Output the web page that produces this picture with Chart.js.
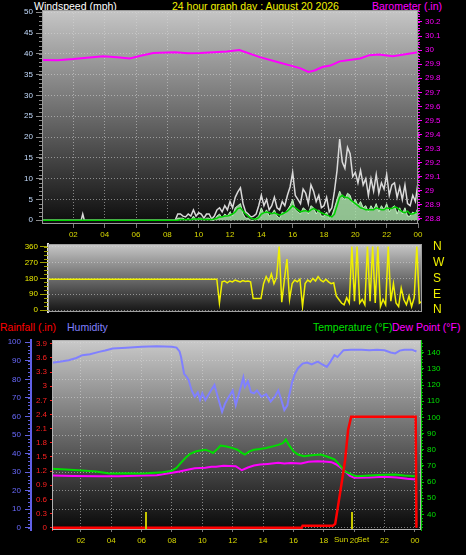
<!DOCTYPE html>
<html>
<head>
<meta charset="utf-8">
<script src="https://cdn.jsdelivr.net/npm/chart.js@4.4.1/dist/chart.umd.min.js"></script>
<style>
  body { margin: 0; background: #000; width: 466px; height: 555px; overflow: hidden; position: relative;
         font-family: "Liberation Sans", Arial, sans-serif; }
  canvas { position: absolute; left: 0; top: 0; pointer-events: none; }
  .lbl { position: absolute; font-size: 10.5px; line-height: 12px; white-space: nowrap; }
</style>
</head>
<body>
<div class="lbl" style="left:34px;top:0px;color:#ffffff">Windspeed (mph)</div>
<div class="lbl" style="left:172px;top:0px;color:#f0f000">24 hour graph day : August 20 2026</div>
<div class="lbl" style="left:372px;top:0px;color:#ff00ff">Barometer (.in)</div>
<div class="lbl" style="left:0px;top:321px;color:#ff0000">Rainfall (.in)</div>
<div class="lbl" style="left:67px;top:321px;color:#8080ff">Humidity</div>
<div class="lbl" style="left:313px;top:321px;color:#00e000">Temperature (°F)</div>
<div class="lbl" style="left:392px;top:321px;color:#ff00ff">Dew Point (°F)</div>

<canvas id="cWind" width="466" height="555"></canvas>
<canvas id="cDir" width="466" height="555"></canvas>
<canvas id="cTemp" width="466" height="555"></canvas>

<script>
// ---- data ----
const HOUR_TICKS = [2, 4, 6, 8, 10, 12, 14, 16, 18, 20, 22, 24];

const BARO_HOURS = [0, 1.0, 2.0, 3.9, 4.8, 5.6, 6.3, 7.1, 8.5, 9.3, 10.1, 11.8, 12.6, 13.9, 15.2, 16.0, 16.5, 17.0, 17.4, 17.9, 18.4, 19.0, 20.3, 20.9, 21.5, 22.4, 23.2, 24.0];
const BARO_VALUES = [29.93, 29.928, 29.936, 29.957, 29.95, 29.94, 29.96, 29.98, 29.985, 29.978, 29.98, 29.99, 30.0, 29.95, 29.91, 29.886, 29.87, 29.845, 29.855, 29.88, 29.89, 29.92, 29.94, 29.964, 29.968, 29.957, 29.97, 29.985];

// quiet night, then 10 minute samples from 08:30
const WIND_EARLY_HOURS = [0, 2.5, 2.6, 2.7, 8.4];
const WIND_EARLY_GUST = [0, 0, 1.5, 0, 0];
const WIND_EARLY_SPEED = [0, 0, 0, 0, 0];
const WIND_EARLY_AVG = [0, 0, 0, 0, 0];
const WIND_START = 8.5;
const WIND_STEP_MIN = 10;
const WIND_GUST = [
  0, 1.5, 1.5,
  1.0, 0.8, 1.5, 1.0, 2.5, 1.0,
  1.8, 1.5, 0.5, 1.5, 1.5, 0.3,
  1.0, 2.5, 3.0, 2.0, 3.5, 2.5,
  4.5, 3.0, 5.5, 6.8, 7.8, 4.0,
  2.0, 1.5, 0.8, 1.0, 1.5, 3.5,
  6.0, 3.5, 5.0, 2.5, 3.5, 5.5,
  3.0, 2.5, 4.5, 3.5, 6.0, 8.0,
  11.5, 6.0, 5.0, 4.0, 7.5, 6.5,
  4.0, 8.5, 7.0, 4.5, 6.0, 3.0,
  3.5, 5.5, 2.0, 3.0, 7.0, 12.0,
  19.5, 14.0, 12.5, 17.5, 16.0, 10.5,
  11.5, 9.0, 12.0, 8.5, 10.0, 6.0,
  10.0, 7.0, 11.0, 6.5, 9.0, 7.5,
  11.0, 6.0, 8.5, 9.0, 5.5, 8.0,
  5.0, 8.5, 4.0, 3.5, 6.0, 4.5,
  9.0
];
const WIND_SPEED = [
  0, 0.5, 0.5,
  0.5, 0, 0.5, 0, 1.0, 0,
  0.5, 0.5, 0, 0.5, 0.5, 0,
  0, 1.0, 1.5, 0.5, 1.5, 1.0,
  2.0, 1.0, 3.0, 3.5, 4.0, 1.5,
  0.5, 0.5, 0, 0, 0.5, 1.0,
  3.0, 1.5, 2.5, 1.0, 1.5, 2.5,
  1.0, 0.5, 2.0, 1.5, 2.5, 3.5,
  5.0, 2.5, 2.0, 1.5, 3.0, 2.5,
  1.5, 3.5, 3.0, 1.5, 2.5, 1.0,
  1.0, 2.0, 0.5, 1.0, 3.0, 5.0,
  7.0, 5.5, 5.0, 6.5, 6.0, 4.0,
  5.0, 3.5, 4.5, 3.0, 3.5, 2.0,
  3.5, 2.5, 4.0, 2.0, 3.5, 2.5,
  4.0, 2.0, 3.0, 3.5, 1.5, 3.0,
  1.5, 3.0, 1.0, 1.0, 2.0, 1.5,
  3.0
];
const WIND_AVG = [
  0, 0, 0.2,
  0.2, 0.2, 0.2, 0.2, 0.3, 0.3,
  0.3, 0.3, 0.2, 0.2, 0.2, 0.2,
  0.3, 0.5, 0.8, 0.8, 1.0, 1.0,
  1.2, 1.5, 2.0, 2.8, 3.0, 2.2,
  1.5, 1.0, 0.5, 0.3, 0.3, 0.6,
  1.5, 1.8, 2.0, 1.8, 1.6, 1.8,
  1.5, 1.2, 1.5, 1.8, 2.2, 2.8,
  3.5, 3.0, 2.5, 2.0, 2.2, 2.3,
  2.0, 2.5, 2.8, 2.5, 2.2, 1.8,
  1.5, 1.3, 1.0, 0.8, 1.5, 3.5,
  5.5, 6.0, 5.5, 5.5, 5.0, 4.5,
  4.0, 3.5, 3.0, 2.8, 2.5, 2.5,
  2.5, 2.5, 3.0, 2.8, 2.5, 2.5,
  3.0, 2.8, 2.8, 3.2, 3.0, 2.5,
  2.0, 1.8, 2.2, 1.5, 1.5, 1.8,
  2.0
];

const DIR_EARLY_HOURS = [0, 8.4];
const DIR_EARLY = [175, 175];
const DIR_VALUES = [
  175, 175, 175,
  175, 175, 175, 175, 175, 175,
  175, 175, 175, 175, 175, 175,
  40, 160, 165, 155, 165, 160,
  170, 165, 160, 168, 162, 165,
  160, 65, 65, 65, 65, 150,
  190, 160, 205, 150, 185, 360,
  45, 170, 290, 60, 150, 170,
  160, 175, 20, 150, 170, 160,
  180, 165, 190, 170, 160, 175,
  160, 150, 155, 80, 60, 40,
  30, 70, 40, 360, 50, 360,
  40, 60, 30, 360, 50, 360,
  40, 360, 20, 60, 30, 360,
  50, 150, 40, 20, 125, 60,
  30, 80, 20, 70, 360, 40,
  50
];
const COMPASS = { 0: "N", 90: "E", 180: "S", 270: "W", 360: "N" };

const HUM_HOURS = [0.1, 0.6, 1.2, 1.7, 2.1, 2.6, 3.2, 3.6, 4.1, 5.0, 6.0, 7.0, 8.0, 8.3, 8.5, 8.6, 8.8, 9.0, 9.1, 9.3, 9.5, 9.7, 9.85, 10.0, 10.2, 10.5, 10.8, 11.0, 11.3, 11.5, 11.7, 12.0, 12.2, 12.4, 12.6, 12.7, 12.8, 13.0, 13.2, 13.4, 13.6, 13.9, 14.2, 14.5, 14.8, 15.0, 15.2, 15.4, 15.6, 15.7, 15.9, 16.1, 16.3, 16.6, 16.9, 17.2, 17.6, 17.9, 18.2, 18.4, 18.7, 18.9, 19.3, 19.8, 20.5, 21.0, 21.5, 22.0, 22.4, 22.7, 23.0, 23.3, 23.8, 24.1];
const HUM_VALUES = [88.9, 89.5, 90.3, 91.5, 93, 93.5, 94.8, 95.5, 96.6, 97, 97.5, 97.8, 97.5, 97.1, 95, 92, 83, 81, 79.6, 74, 70.6, 73, 69, 72.5, 68.8, 73, 77, 71, 62.5, 67, 70, 74, 66, 72, 78, 81, 76, 79, 73, 72.5, 74, 70.6, 72, 68, 71, 74, 69, 63.4, 66, 70.6, 78, 83, 86, 88.5, 89, 88, 89.5, 88, 86.7, 89, 93, 92, 95.7, 96, 96, 95.7, 96, 95.7, 94.5, 94, 95.5, 96, 96, 95];

const TEMP_HOURS = [0.1, 1.0, 2.1, 3.0, 3.9, 5.0, 6.1, 7.4, 8.0, 8.3, 8.6, 8.9, 9.2, 9.6, 9.9, 10.2, 10.5, 10.7, 11.0, 11.2, 11.6, 12.0, 12.3, 12.6, 12.8, 13.1, 13.4, 13.8, 14.2, 14.7, 15.0, 15.3, 15.5, 15.7, 16.0, 16.3, 16.7, 17.2, 17.8, 18.3, 18.7, 18.9, 19.1, 19.4, 19.6, 20.0, 20.2, 21.0, 22.0, 22.7, 23.3, 23.7, 24.1];
const TEMP_VALUES = [68.2, 67.8, 67.2, 66.5, 65.3, 65.5, 65.3, 66.1, 67.0, 68.8, 72, 75, 77.5, 79, 79.5, 80, 79, 78, 80.5, 82.6, 82, 81, 80, 78, 77, 79, 80, 80.5, 81, 82.2, 83, 84, 86.3, 83, 79, 77, 76, 76.5, 77, 75.5, 74, 72, 69.8, 66.5, 65.7, 64, 63.6, 64, 64.5, 64.7, 64, 63.8, 63.6];

const DEW_HOURS = [0.1, 1.5, 3.2, 4.5, 6.1, 7.0, 8.0, 8.5, 9.1, 9.5, 10.2, 10.6, 10.9, 11.4, 12.2, 12.6, 13.0, 13.4, 13.8, 14.3, 15.0, 15.4, 15.8, 16.5, 17.0, 17.6, 18.2, 18.5, 18.8, 19.1, 19.4, 19.7, 20.0, 21.0, 22.0, 22.8, 23.5, 24.1];
const DEW_VALUES = [64, 63.8, 63.6, 63.5, 64, 64.2, 65.7, 66.5, 67.8, 68.5, 68.8, 69.5, 69.4, 70, 69.8, 67.3, 69, 70.2, 70.8, 71.2, 71.9, 71.5, 71.8, 71.5, 72.5, 72.9, 72.6, 72.3, 71, 69, 66.7, 64, 62.6, 62.8, 63.3, 62.8, 62, 61.6];

const RAIN_HOURS = [0.1, 16.55, 16.6, 18.6, 18.75, 19.0, 19.2, 19.4, 19.6, 19.8, 24.05, 24.1];
const RAIN_VALUES = [0, 0, 0.04, 0.04, 0.08, 0.59, 1.0, 1.43, 2.07, 2.35, 2.35, 0];

const SUNRISE = 6.3;
const SUNSET = 19.83;

// ---- helpers ----
function pts(hours, values) {
  return values.map((v, i) => ({ x: hours[i], y: v }));
}
function sampleHours(start, stepMin, n) {
  return Array.from({ length: n }, (_, i) => start + i * stepMin / 60);
}
function fixedTicks(list) {
  return scale => { scale.ticks = list.map(v => ({ value: v })); };
}
function range(from, to, step) {
  const out = [];
  for (let v = from; v <= to + 1e-9; v += step) out.push(Math.round(v * 100) / 100);
  return out;
}
function hourLabel(v) {
  return String(v % 24).padStart(2, "0");
}

const TICK_FONT = { family: "Liberation Sans, Arial, sans-serif", size: 8 };
const GRID_COLOR = "rgba(215,215,215,0.55)";

const windHours = WIND_EARLY_HOURS.concat(sampleHours(WIND_START, WIND_STEP_MIN, WIND_GUST.length));
const dirHours = DIR_EARLY_HOURS.concat(sampleHours(WIND_START, WIND_STEP_MIN, DIR_VALUES.length));

// gradient plot background + frame
const panelBg = {
  id: "panelBg",
  beforeDraw(chart, args, opts) {
    const { ctx, chartArea: a } = chart;
    const g = ctx.createLinearGradient(0, a.top, 0, a.bottom);
    g.addColorStop(0, opts.top);
    g.addColorStop(1, opts.bottom);
    ctx.save();
    ctx.fillStyle = g;
    ctx.fillRect(a.left, a.top, a.right - a.left, a.bottom - a.top);
    ctx.restore();
  },
  afterDraw(chart, args, opts) {
    const { ctx, chartArea: a } = chart;
    ctx.save();
    ctx.strokeStyle = opts.frame;
    ctx.lineWidth = 1;
    ctx.strokeRect(a.left + 0.5, a.top + 0.5, a.right - a.left - 1, a.bottom - a.top - 1);
    ctx.restore();
  }
};

// small minor tick marks beside the value axes
const minorTicks = {
  id: "minorTicks",
  afterDraw(chart, args, opts) {
    const { ctx } = chart;
    ctx.save();
    (opts.list || []).forEach(m => {
      const s = chart.scales[m.scale];
      ctx.strokeStyle = m.color;
      ctx.lineWidth = 1;
      const x0 = s.position === "left" ? s.right : s.left;
      const dir = s.position === "left" ? -1 : 1;
      range(m.from, m.to, m.step).forEach(v => {
        const y = Math.round(s.getPixelForValue(v)) + 0.5;
        ctx.beginPath();
        ctx.moveTo(x0, y);
        ctx.lineTo(x0 + dir * m.len, y);
        ctx.stroke();
      });
    });
    ctx.restore();
  }
};

// sunrise / sunset markers on the temperature panel
const sunMarks = {
  id: "sunMarks",
  afterDatasetsDraw(chart) {
    const { ctx, chartArea: a, scales } = chart;
    ctx.save();
    ctx.strokeStyle = "#c8c800";
    ctx.lineWidth = 2;
    [SUNRISE, SUNSET].forEach(h => {
      const x = Math.round(scales.x.getPixelForValue(h));
      ctx.beginPath();
      ctx.moveTo(x, a.bottom - 18);
      ctx.lineTo(x, a.bottom);
      ctx.stroke();
    });
    ctx.fillStyle = "#d8d800";
    ctx.font = "8px Liberation Sans, Arial, sans-serif";
    ctx.textAlign = "center";
    ctx.textBaseline = "top";
    ctx.fillText("Sun    Set", scales.x.getPixelForValue(SUNSET), a.bottom + 6);
    ctx.restore();
  }
};

const baseOptions = {
  responsive: false,
  animation: false,
  events: [],
  plugins: { legend: { display: false }, tooltip: { enabled: false } },
  elements: { point: { radius: 0 }, line: { tension: 0, borderCapStyle: "butt" } }
};

// ---- wind + barometer ----
new Chart(document.getElementById("cWind"), {
  type: "line",
  data: {
    datasets: [
      { data: pts(BARO_HOURS, BARO_VALUES), yAxisID: "baro", borderColor: "#ff00ff", borderWidth: 2, order: 0 },
      { data: pts(windHours, WIND_EARLY_AVG.concat(WIND_AVG)), yAxisID: "wind", borderColor: "#00d000", borderWidth: 1.5, order: 1 },
      { data: pts(windHours, WIND_EARLY_GUST.concat(WIND_GUST)), yAxisID: "wind", borderColor: "#dadada", borderWidth: 1.5, order: 2 },
      { data: pts(windHours, WIND_EARLY_SPEED.concat(WIND_SPEED)), yAxisID: "wind", borderColor: "#c0f4c0",
        backgroundColor: "rgba(176,236,176,0.8)", fill: "origin", borderWidth: 1, order: 3 }
    ]
  },
  options: {
    ...baseOptions,
    layout: { padding: { top: 10, bottom: 311, left: 0, right: 0 } },
    plugins: {
      ...baseOptions.plugins,
      panelBg: { top: "#c6c6c6", bottom: "#0c0c0c", frame: "#9a9a9a" },
      minorTicks: { list: [
        { scale: "wind", from: 0, to: 50, step: 1, len: 3, color: "#888" },
        { scale: "baro", from: 28.8, to: 30.28, step: 0.02, len: 2, color: "#ff00ff" }
      ] }
    },
    scales: {
      x: {
        type: "linear", min: 0, max: 24,
        afterFit: s => { s.height = 20; },
        afterBuildTicks: fixedTicks(HOUR_TICKS),
        ticks: { color: "#d8d800", font: TICK_FONT, padding: 2, maxRotation: 0, autoSkip: false, callback: hourLabel },
        grid: { color: GRID_COLOR, tickColor: "#777", tickLength: 4 },
        border: { display: false, dash: [1, 2] }
      },
      wind: {
        position: "left", min: -0.9, max: 50.55,
        afterFit: s => { s.width = 42; },
        afterBuildTicks: fixedTicks(range(0, 50, 5)),
        ticks: { color: "#c4dcff", font: TICK_FONT, padding: 3, autoSkip: false },
        grid: { color: GRID_COLOR, tickColor: "#888", tickLength: 6 },
        border: { display: false, dash: [1, 2] }
      },
      baro: {
        position: "right", min: 28.764, max: 30.285,
        afterFit: s => { s.width = 48; },
        afterBuildTicks: fixedTicks(range(28.8, 30.2, 0.1)),
        ticks: { color: "#ff00ff", font: TICK_FONT, padding: 3, autoSkip: false, callback: v => String(Number(v.toFixed(1))) },
        grid: { drawOnChartArea: false, tickColor: "#ff00ff", tickLength: 4 },
        border: { display: false }
      }
    }
  },
  plugins: [panelBg, minorTicks]
});

// ---- wind direction ----
new Chart(document.getElementById("cDir"), {
  type: "line",
  data: {
    datasets: [
      { data: pts(dirHours, DIR_EARLY.concat(DIR_VALUES)), yAxisID: "dir", borderColor: "#f0f000", borderWidth: 1.5 }
    ]
  },
  options: {
    ...baseOptions,
    layout: { padding: { top: 244, bottom: 243, left: 0, right: 0 } },
    plugins: {
      ...baseOptions.plugins,
      panelBg: { top: "#c8c8c8", bottom: "#141414", frame: "#a0a0a0" },
      minorTicks: { list: [{ scale: "dir", from: 0, to: 360, step: 22.5, len: 4, color: "#a0a000" }] }
    },
    scales: {
      x: { type: "linear", min: 0, max: 24, display: false },
      dir: {
        position: "left", min: -11, max: 375,
        afterFit: s => { s.width = 48; },
        afterBuildTicks: fixedTicks([0, 90, 180, 270, 360]),
        ticks: { color: "#e8e800", font: TICK_FONT, padding: 2, autoSkip: false },
        grid: { color: GRID_COLOR, tickColor: "#a0a000", tickLength: 8 },
        border: { display: true, color: "#e0e0e0", width: 2, dash: [1, 2] }
      },
      compass: {
        position: "right", min: -11, max: 375,
        afterFit: s => { s.width = 44; },
        afterBuildTicks: fixedTicks([0, 90, 180, 270, 360]),
        ticks: { color: "#f0f000", font: { family: "Liberation Sans, Arial, sans-serif", size: 12 }, padding: 11,
                 autoSkip: false, callback: v => COMPASS[v] },
        grid: { drawOnChartArea: false, drawTicks: false },
        border: { display: false }
      }
    }
  },
  plugins: [panelBg, minorTicks]
});

// ---- rain, humidity, temperature, dew point ----
new Chart(document.getElementById("cTemp"), {
  type: "line",
  data: {
    datasets: [
      { data: pts(RAIN_HOURS, RAIN_VALUES), yAxisID: "rain", borderColor: "#ff0000", borderWidth: 2.5, order: 0 },
      { data: pts(TEMP_HOURS, TEMP_VALUES), yAxisID: "temp", borderColor: "#00dd00", borderWidth: 2, order: 1 },
      { data: pts(DEW_HOURS, DEW_VALUES), yAxisID: "temp", borderColor: "#ff00ff", borderWidth: 2, order: 2 },
      { data: pts(HUM_HOURS, HUM_VALUES), yAxisID: "hum", borderColor: "#8080ff", borderWidth: 2, order: 3 }
    ]
  },
  options: {
    ...baseOptions,
    layout: { padding: { top: 340, bottom: 3, left: 0, right: 0 } },
    plugins: {
      ...baseOptions.plugins,
      panelBg: { top: "#cacaca", bottom: "#080808", frame: "#b0b0b0" },
      minorTicks: { list: [
        { scale: "hum", from: 0, to: 100, step: 2, len: 3, color: "#6060e0" },
        { scale: "temp", from: 32, to: 146, step: 2, len: 2, color: "#00c000" }
      ] }
    },
    scales: {
      x: {
        type: "linear", min: 0.1, max: 24.4,
        afterFit: s => { s.height = 22; },
        afterBuildTicks: fixedTicks(HOUR_TICKS),
        ticks: { color: "#d8d800", font: TICK_FONT, padding: 4, maxRotation: 0, autoSkip: false, callback: hourLabel },
        grid: { color: GRID_COLOR, tickColor: "#777", tickLength: 2 },
        border: { display: false, dash: [1, 2] }
      },
      hum: {
        position: "left", weight: 2, min: -1.2, max: 101.2,
        afterFit: s => { s.width = 31; },
        afterBuildTicks: fixedTicks(range(0, 100, 10)),
        ticks: { color: "#6a6aff", font: TICK_FONT, padding: 4, autoSkip: false },
        grid: { color: GRID_COLOR, tickColor: "#6060e0", tickLength: 6 },
        border: { display: true, color: "#6060e8", width: 2, dash: [1, 2] }
      },
      rain: {
        position: "left", weight: 1, min: -0.05, max: 3.98,
        afterFit: s => { s.width = 21; },
        afterBuildTicks: fixedTicks(range(0, 3.9, 0.3)),
        ticks: { color: "#ff2020", font: TICK_FONT, padding: 3, autoSkip: false, callback: v => String(Number(v.toFixed(1))) },
        grid: { drawOnChartArea: false, tickColor: "#ff2020", tickLength: 2 },
        border: { display: true, color: "#ff3030", width: 1 }
      },
      temp: {
        position: "right", min: 30.3, max: 147.9,
        afterFit: s => { s.width = 45; },
        afterBuildTicks: fixedTicks(range(40, 140, 10)),
        ticks: { color: "#00e000", font: TICK_FONT, padding: 3, autoSkip: false },
        grid: { drawOnChartArea: false, tickColor: "#00c000", tickLength: 3 },
        border: { display: true, color: "#00c000", width: 1 }
      }
    }
  },
  plugins: [panelBg, minorTicks, sunMarks]
});
</script>
</body>
</html>
